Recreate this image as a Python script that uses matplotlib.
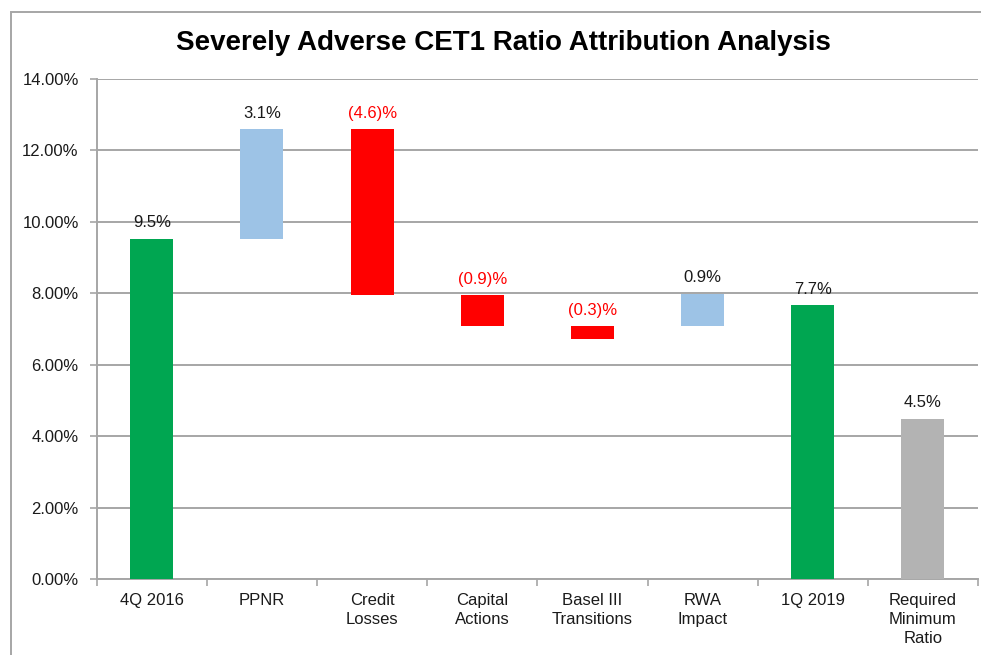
import matplotlib
matplotlib.use('Agg')
import matplotlib.pyplot as plt
from matplotlib.patches import Rectangle
from matplotlib.ticker import FixedLocator, PercentFormatter

plt.rcParams['font.family'] = ['Liberation Sans', 'DejaVu Sans']

# Categories and bar extents (percent)
categories = ['4Q 2016', 'PPNR', 'Credit\nLosses', 'Capital\nActions',
              'Basel III\nTransitions', 'RWA\nImpact', '1Q 2019',
              'Required\nMinimum\nRatio']
bar_bottoms = [0.0, 9.53, 7.94, 7.08, 6.73, 7.07, 0.0, 0.0]
bar_tops = [9.53, 12.59, 12.59, 7.94, 7.07, 7.99, 7.66, 4.49]
value_labels = ['9.5%', '3.1%', '(4.6)%', '(0.9)%', '(0.3)%', '0.9%', '7.7%', '4.5%']
bar_kinds = ['total', 'up', 'down', 'down', 'down', 'up', 'total', 'minimum']

colors = {'total': '#00A651', 'up': '#9DC3E6', 'down': '#FF0000', 'minimum': '#B3B3B3'}
label_colors = {'total': '#1a1a1a', 'up': '#1a1a1a', 'down': '#FF0000', 'minimum': '#1a1a1a'}

fig = plt.figure(figsize=(9.81, 6.55), dpi=100)
ax = fig.add_axes([96.7 / 981, 1 - 579 / 655, (978 - 96.7) / 981, 500 / 655])

x = range(len(categories))
heights = [t - b for t, b in zip(bar_tops, bar_bottoms)]
bars = ax.bar(x, heights, bottom=bar_bottoms, width=0.39,
              color=[colors[k] for k in bar_kinds], zorder=3)

for i, rect in enumerate(bars):
    ax.annotate(value_labels[i], (rect.get_x() + rect.get_width() / 2, bar_tops[i]),
                xytext=(0, 6), textcoords='offset points', ha='center', va='bottom',
                fontsize=12, color=label_colors[bar_kinds[i]])

ax.set_xlim(-0.5, len(categories) - 0.5)
ax.set_ylim(0, 14)
ax.yaxis.set_major_locator(FixedLocator([0, 2, 4, 6, 8, 10, 12, 14]))
ax.yaxis.set_major_formatter(PercentFormatter(decimals=2))
ax.grid(axis='y', color='#A6A6A6', linewidth=1.4, zorder=0)

# category boundaries as ticks, labels in the middle
ax.set_xticks([i - 0.5 for i in range(len(categories) + 1)])
ax.set_xticklabels([])
ax.set_xticks(list(x), minor=True)
ax.set_xticklabels(categories, minor=True, fontsize=12, linespacing=1.35, color='#1a1a1a')
ax.tick_params(axis='x', which='minor', length=0, pad=10)
ax.tick_params(axis='x', which='major', length=5, color='#A6A6A6', width=1.2)
ax.tick_params(axis='y', length=5, color='#A6A6A6', width=1.2, labelsize=12,
               labelcolor='#1a1a1a', pad=8)

for side in ['top', 'right']:
    ax.spines[side].set_visible(False)
for side in ['left', 'bottom']:
    ax.spines[side].set_color('#A6A6A6')
    ax.spines[side].set_linewidth(1.4)

fig.text(503 / 981, 1 - 43 / 655, 'Severely Adverse CET1 Ratio Attribution Analysis',
         ha='center', va='center', fontsize=20, fontweight='bold', color='black')

# chart area border (cut off at right and bottom in the original)
fig.patches.append(Rectangle((11 / 981, -0.1), 1.2, 1 - 12 / 655 + 0.1,
                             transform=fig.transFigure, fill=False,
                             edgecolor='#A6A6A6', linewidth=1.4))

fig.savefig('out.png', dpi=100)
